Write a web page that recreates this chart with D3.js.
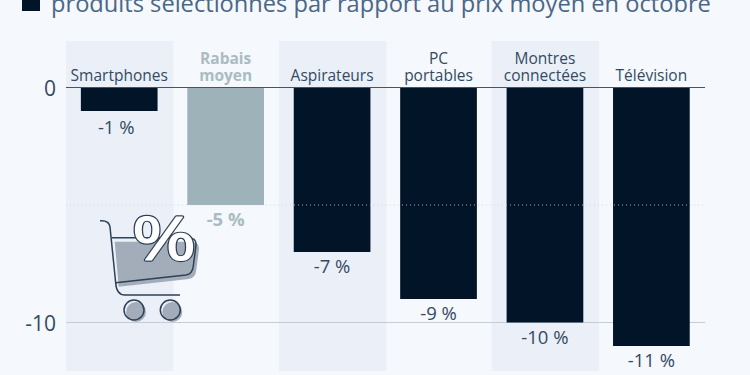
<!DOCTYPE html>
<html><head><meta charset="utf-8">
<script src="https://cdn.jsdelivr.net/npm/d3@7/dist/d3.min.js"></script>
<style>html,body{margin:0;padding:0;background:#f5f8fc;overflow:hidden}svg{display:block}text{font-family:"Open Sans",sans-serif}</style>
</head><body><svg id="c" width="750" height="375"></svg>
<script>
const categories=[["Smartphones"],["Rabais","moyen"],["Aspirateurs"],["PC","portables"],["Montres","connectées"],["Télévision"]];
const values=[-1,-5,-7,-9,-10,-11];
const valueLabels=["-1 %","-5 %","-7 %","-9 %","-10 %","-11 %"];
const yTicks=[0,-10];
const dottedTicks=[-5];
const highlighted=[1];
const titleText="produits sélectionnés par rapport au prix moyen en octobre";

const svg=d3.select("#c");
const x=d3.scaleBand().domain(d3.range(categories.length)).range([66,704.6]).paddingInner(0);
const y=d3.scaleLinear().domain([0,-10]).range([87.5,322.5]);
const barW=76.7, inset=(x.bandwidth()-barW)/2;
const dark="#021428", grey="#9db2b9", ink="#334a63";
const cx=i=>x(i)+x.bandwidth()/2;

svg.append("rect").attr("x",22).attr("y",-8).attr("width",18).attr("height",19).attr("fill",dark);
svg.append("text").attr("x",51).attr("y",12).attr("font-size",23.65).attr("fill","#4a6788").text(titleText);

svg.selectAll(".band").data(d3.range(0,6,2)).join("rect")
  .attr("x",d=>x(d)).attr("y",41).attr("width",x.bandwidth()+1).attr("height",330).attr("fill","#ebf0f8");

svg.selectAll(".grid").data(yTicks).join("line").attr("x1",66).attr("x2",705)
  .attr("y1",d=>y(d)).attr("y2",d=>y(d))
  .attr("stroke",d=>d===0?"#3f566f":"#c5ccd6").attr("stroke-width",d=>d===0?1.2:1);

svg.selectAll(".ytick").data(yTicks).join("text").attr("x",56).attr("y",d=>y(d)+8.5)
  .attr("text-anchor","end").attr("font-size",21).attr("fill",ink).text(d=>d);

svg.selectAll(".bar").data(values).join("rect")
  .attr("x",(d,i)=>x(i)+inset).attr("width",barW)
  .attr("y",y(0)+.5).attr("height",d=>y(d)-y(0)-.5)
  .attr("fill",(d,i)=>highlighted.includes(i)?grey:dark);

svg.selectAll(".dot").data(dottedTicks).join("line").attr("x1",66).attr("x2",705)
  .attr("y1",d=>y(d)).attr("y2",d=>y(d))
  .attr("stroke","#c5ccd6").attr("stroke-opacity",.8).attr("stroke-dasharray","1 3").attr("stroke-width",1);

svg.selectAll(".val").data(values).join("text")
  .attr("x",(d,i)=>cx(i)-(i===0?3:0)).attr("y",(d,i)=>y(d)+(i===0?23:21))
  .attr("text-anchor","middle").attr("font-size",18.5)
  .attr("font-weight",(d,i)=>highlighted.includes(i)?700:400)
  .attr("fill",(d,i)=>highlighted.includes(i)?"#a9bcc3":ink)
  .text((d,i)=>valueLabels[i]);

categories.forEach((lines,i)=>{
  const hi=highlighted.includes(i);
  lines.slice().reverse().forEach((t,j)=>{
    svg.append("text").attr("x",cx(i)).attr("y",y(0)-6.5-j*17)
      .attr("text-anchor","middle").attr("font-size",15.5)
      .attr("font-weight",hi?700:400).attr("fill",hi?"#a9bcc3":ink).text(t);
  });
});

// decorative cart icon
const icon=svg.append("g");
const stroke="#2c4058";
const basket="M111.7 237.7H188Q196.5 237.7 196 245L193.3 266Q192.5 274 186 275L115.7 282.7Z";
icon.append("path").attr("d",basket).attr("transform","translate(3,4)").attr("fill","#a3adb9");
icon.append("path").attr("d","M100 220.7C106 220.3 109.5 222 110 227L115.7 283Q116.5 295 125 295H180")
  .attr("fill","none").attr("stroke",stroke).attr("stroke-width",1.5);
icon.append("path").attr("d","M111.7 237.7H188Q196.5 237.7 196 245L193.3 266Q192.5 274 186 275L115.7 282.7")
  .attr("fill","none").attr("stroke",stroke).attr("stroke-width",1.5);
[134,170.3].forEach(c=>{
  icon.append("circle").attr("cx",c+2).attr("cy",312).attr("r",10).attr("fill","#a3adb9");
  icon.append("circle").attr("cx",c).attr("cy",310).attr("r",10).attr("fill","none").attr("stroke",stroke).attr("stroke-width",1.5);
});
const pct=icon.append("g").attr("transform","translate(164,260) scale(1.3,1.02)");
pct.append("text").attr("text-anchor","middle").attr("font-size",60).attr("fill",stroke).attr("stroke",stroke).attr("stroke-width",3.2).attr("stroke-linejoin","round").text("%");
pct.append("text").attr("text-anchor","middle").attr("font-size",60).attr("fill","#fff").attr("stroke","#fff").attr("stroke-width",1.2).attr("stroke-linejoin","round").text("%");
</script></body></html>
